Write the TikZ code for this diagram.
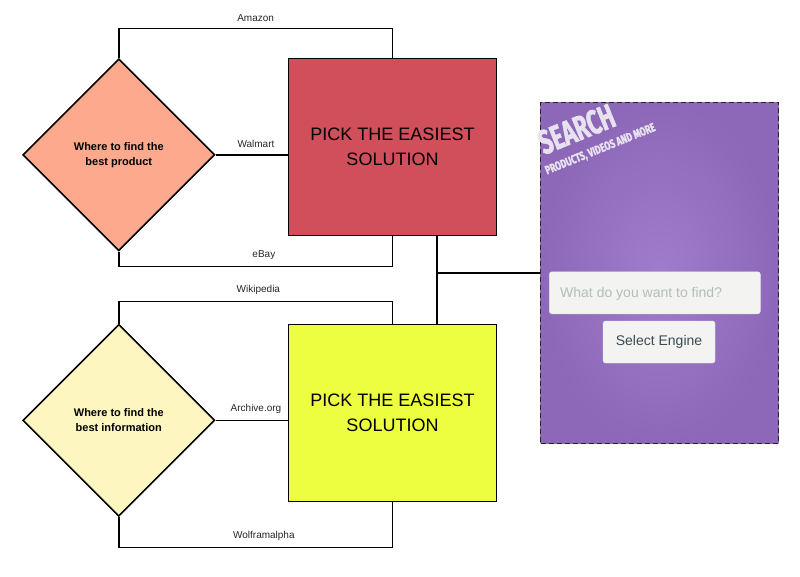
\documentclass[tikz,border=0pt]{standalone}
\usepackage{fontspec}
\setmainfont{Liberation Sans}
\newfontfamily\searchfont{Fira Sans}[BoldFeatures={FakeBold=2}]
\usetikzlibrary{shapes.geometric,calc}
\definecolor{redbox}{HTML}{D14F5A}
\definecolor{yellowbox}{HTML}{EDFD3F}
\definecolor{salmon}{HTML}{FDA98D}
\definecolor{paleyellow}{HTML}{FDF6C0}
\definecolor{purpin}{HTML}{A17CCC}
\definecolor{purpout}{HTML}{8E68B8}
\definecolor{fieldfill}{HTML}{F3F3F1}
\definecolor{placeholder}{HTML}{B2BEB7}
\definecolor{btntext}{HTML}{3A4B52}
\definecolor{searchwhite}{HTML}{E8E2F0}
\tikzset{
  decision/.style={diamond, draw=black, line width=1.6pt, aspect=1, minimum width=192pt, minimum height=192pt, inner sep=0pt, align=center, font=\fontsize{11}{15}\selectfont\bfseries},
  solution/.style={rectangle, draw=black, line width=1.6pt, minimum width=208pt, minimum height=177pt, align=center, font=\fontsize{18}{25}\selectfont},
  conn/.style={draw=black, line width=1.6pt},
  lbl/.style={above, inner sep=0pt, yshift=6pt, font=\fontsize{10}{12}\selectfont, text=black!85},
  panelbox/.style={rectangle, draw=black!85, line width=1.3pt, dash pattern=on 5pt off 3pt, inner color=purpin, outer color=purpout, minimum width=238pt, minimum height=341pt},
  fieldbox/.style={rectangle, rounded corners=2.5pt, fill=fieldfill, draw=black!10, line width=0.4pt},
  searchtxt/.style={text=searchwhite, inner sep=0pt, rotate=22, anchor=base west}
}
\begin{document}
\begin{tikzpicture}[x=1pt,y=-1pt]
\useasboundingbox (0,0) rectangle (800,576);
% decisions
\node[decision, fill=salmon] (d1) at (118.8,154.8) {Where to find the\\best product};
\node[decision, fill=paleyellow] (d2) at (118.8,420.3) {Where to find the\\best information};
% solutions
\node[solution, fill=redbox] (r1) at (392.5,147) {PICK THE EASIEST\\SOLUTION};
\node[solution, fill=yellowbox] (r2) at (392.5,413) {PICK THE EASIEST\\SOLUTION};
% panel
\node[panelbox] (panel) at (659.5,272.7) {};
\node[fieldbox, minimum width=211pt, minimum height=42pt] (field) at (654.8,292.8) {};
\node[anchor=west, inner sep=0pt, text=placeholder, font=\fontsize{14}{16}\selectfont] (ph) at (560,293.5) {What do you want to find?};
\node[fieldbox, minimum width=112pt, minimum height=42pt, font=\fontsize{14}{16}\selectfont, text=btntext] (btn) at (659,342) {Select Engine};
\node[searchtxt, font=\searchfont\fontsize{34}{35}\selectfont\bfseries, xscale=0.66] (s1) at (544,155) {SEARCH};
\node[searchtxt, font=\searchfont\fontsize{12}{13}\selectfont\bfseries, xscale=0.72] (s2) at (547,174.5) {PRODUCTS, VIDEOS AND MORE};
% connectors top
\draw[conn] (d1.north) -- ++(0,-29.5) -| node[lbl, pos=0.25] {Amazon} (r1.north);
\draw[conn] (d1.east) -- node[lbl, pos=0.56] {Walmart} (d1.east -| r1.west);
\draw[conn] (d1.south) -- ++(0,15) -| node[lbl, pos=0.265] {eBay} (r1.south);
% connectors bottom
\draw[conn] (d2.north) -- ++(0,-22) -| node[lbl, pos=0.255] {Wikipedia} (r2.north);
\draw[conn] (d2.east) -- node[lbl, pos=0.56] {Archive.org} (d2.east -| r2.west);
\draw[conn] (d2.south) -- ++(0,30.5) -| node[lbl, pos=0.265] {Wolframalpha} (r2.south);
% link to panel
\coordinate (j) at (437,0);
\draw[conn] (r1.south -| j) -- (r2.north -| j);
\draw[conn] (j |- panel.west) -- (panel.west);
\end{tikzpicture}
\end{document}
